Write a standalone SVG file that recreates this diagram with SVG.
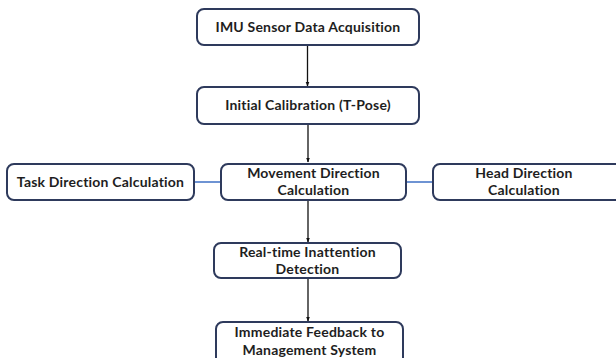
<svg xmlns="http://www.w3.org/2000/svg" width="616" height="358" viewBox="0 0 616 358">
<defs>
<style>
.box{fill:#fff;stroke:#2e3a5c;stroke-width:2}
.t{font-family:Lato,"Noto Sans","Liberation Sans",sans-serif;font-weight:bold;font-size:14px;letter-spacing:0.2px;fill:#1e1e1e;text-anchor:middle}
.arr{stroke:#111;stroke-width:1.3;fill:none;marker-end:url(#ah)}
.link{stroke:#4a78c8;stroke-width:1.6;fill:none}
</style>
<marker id="ah" viewBox="0 0 10 10" refX="9" refY="5" markerWidth="5" markerHeight="6" orient="auto" markerUnits="userSpaceOnUse">
<path d="M0,1 L10,5 L0,9 z" fill="#111"/>
</marker>
</defs>
<g id="connectors">
<line class="arr" x1="307.5" y1="45" x2="307.5" y2="86"/>
<line class="arr" x1="308" y1="125" x2="308" y2="162"/>
<line class="arr" x1="308" y1="201" x2="308" y2="242"/>
<line class="arr" x1="308" y1="279" x2="308" y2="321"/>
<line class="link" x1="194" y1="182" x2="221" y2="182"/>
<line class="link" x1="406" y1="182" x2="433" y2="182"/>
</g>
<g id="imu">
<rect class="box" x="197" y="9" width="222" height="36" rx="7"/>
<text class="t" x="308" y="32">IMU Sensor Data Acquisition</text>
</g>
<g id="calib">
<rect class="box" x="197" y="87" width="222" height="37" rx="7"/>
<text class="t" x="308" y="110">Initial Calibration (T-Pose)</text>
</g>
<g id="task">
<rect class="box" x="7" y="164" width="187" height="36" rx="7"/>
<text class="t" x="100.5" y="187">Task Direction Calculation</text>
</g>
<g id="movement">
<rect class="box" x="221" y="164" width="185" height="36" rx="7"/>
<text class="t" x="313.5" y="178">Movement Direction<tspan x="313.5" dy="17">Calculation</tspan></text>
</g>
<g id="head">
<rect class="box" x="433" y="164" width="190" height="36" rx="7"/>
<text class="t" x="524" y="178">Head Direction<tspan x="524" dy="17">Calculation</tspan></text>
</g>
<g id="realtime">
<rect class="box" x="214" y="243" width="187" height="35" rx="7"/>
<text class="t" x="307.5" y="256.5">Real-time Inattention<tspan x="307.5" dy="17">Detection</tspan></text>
</g>
<g id="feedback">
<rect class="box" x="216" y="322" width="187" height="44" rx="7"/>
<text class="t" x="309.5" y="337">Immediate Feedback to<tspan x="309.5" dy="17.5">Management System</tspan></text>
</g>
</svg>
